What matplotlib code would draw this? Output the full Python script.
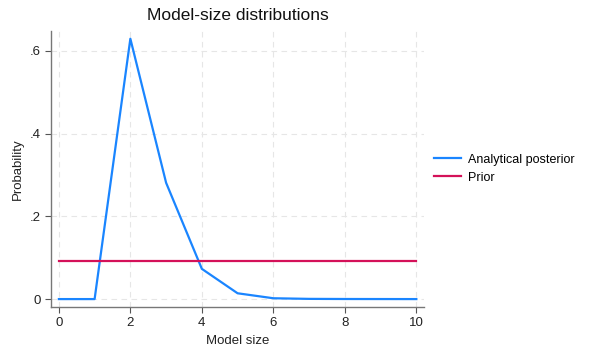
import matplotlib
matplotlib.use("Agg")
import matplotlib.pyplot as plt

# model sizes and probabilities
model_size = [0, 1, 2, 3, 4, 5, 6, 7, 8, 9, 10]
posterior = [0.0, 0.0, 0.629, 0.281, 0.073, 0.014, 0.002, 0.0005, 0.0002, 0.0001, 0.0]
prior = [1 / 11] * 11

x_ticks = [0, 2, 4, 6, 8, 10]
y_ticks = [0, 0.2, 0.4, 0.6]
y_tick_labels = ["0", ".2", ".4", ".6"]

plt.rcParams["font.family"] = ["Liberation Sans", "DejaVu Sans"]

fig = plt.figure(figsize=(6, 3.59), dpi=100)
ax = fig.add_axes([0.085, 0.145, 0.622, 0.769])

ax.plot(model_size, posterior, color="#1a85ff", lw=1.6, label="Analytical posterior")
ax.plot(model_size, prior, color="#d41159", lw=1.6, label="Prior")

ax.set_xlim(-0.22, 10.22)
ax.set_ylim(-0.019, 0.648)
ax.set_xticks(x_ticks)
ax.set_yticks(y_ticks)
ax.set_yticklabels(y_tick_labels)
ax.tick_params(colors="#555555", labelcolor="#222222", labelsize=9.5, length=4, width=0.8)
ax.grid(True, color="#e6e6e6", ls=(0, (5, 4)), lw=0.8)
ax.set_axisbelow(True)
for side in ["top", "right"]:
    ax.spines[side].set_visible(False)
for side in ["left", "bottom"]:
    ax.spines[side].set_color("#777777")
    ax.spines[side].set_linewidth(1.0)

ax.set_xlabel("Model size", fontsize=9.5, color="#222222")
ax.set_ylabel("Probability", fontsize=9.5, color="#222222")
ax.set_title("Model-size distributions", fontsize=12.5, color="#111111", pad=8)

fig.legend(loc="center left", bbox_to_anchor=(0.705, 0.53), frameon=False,
           fontsize=9, handlelength=2.15, handletextpad=0.55, labelspacing=0.5)

fig.savefig("out.png", dpi=100)
